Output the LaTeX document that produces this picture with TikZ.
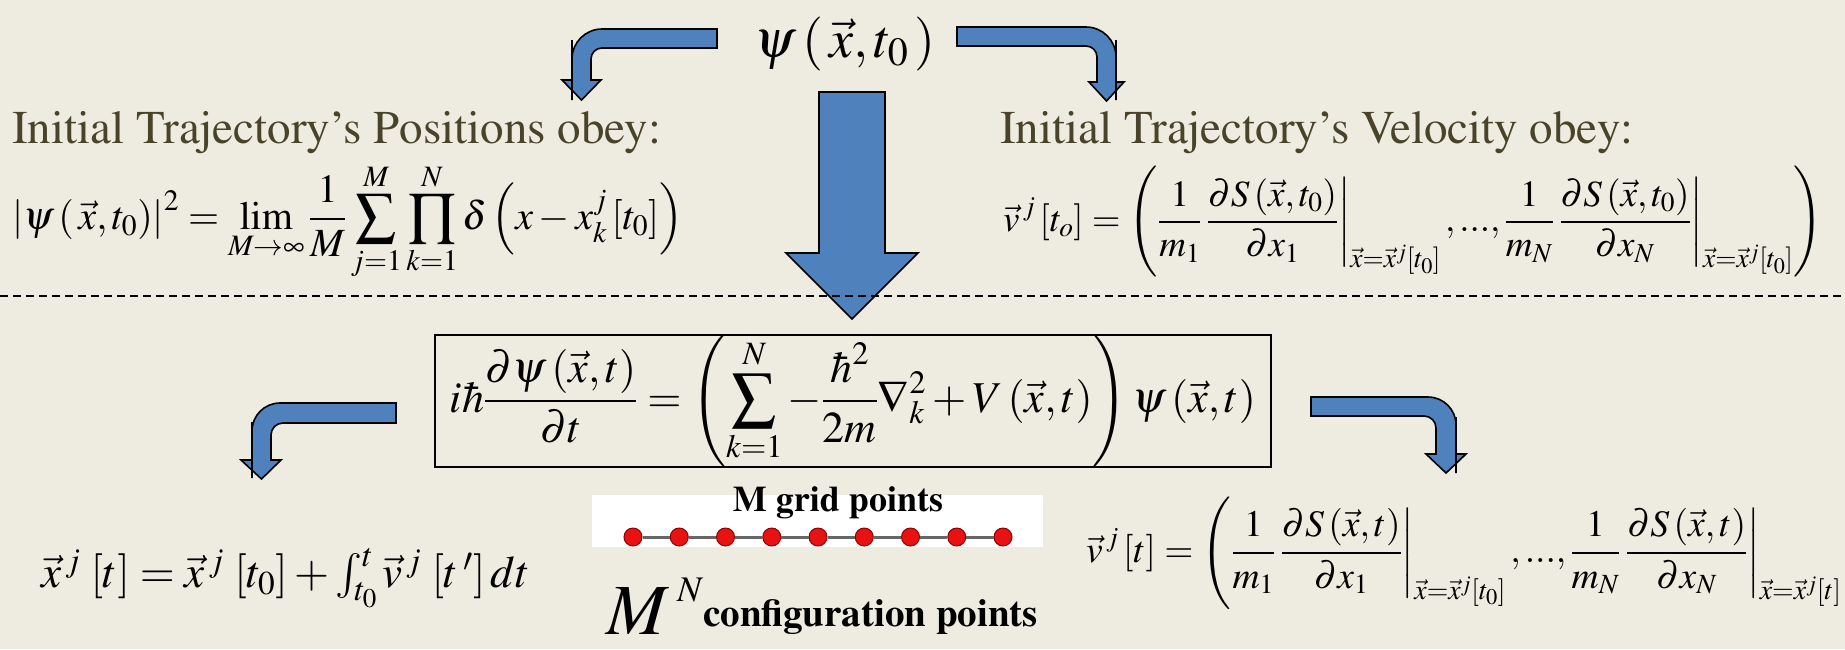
\documentclass[tikz,border=0pt]{standalone}
\usepackage[T1]{fontenc}
\usepackage{amsmath}
\usepackage{mathptmx}
\usetikzlibrary{positioning}
\definecolor{slidebg}{HTML}{EEECE1}
\definecolor{olivetxt}{HTML}{494429}
\definecolor{arrowblue}{HTML}{4F81BD}
\definecolor{dotred}{HTML}{E81212}
\begin{document}
\begin{tikzpicture}[x=1pt, y=-1pt,
  blk/.style={fill=arrowblue, draw=black, line width=1.6pt, line join=miter},
  ttl/.style={anchor=base west, inner sep=0pt, text=olivetxt, font=\fontsize{47}{56}\selectfont},
  eq/.style={inner sep=0pt, font=\fontsize{40}{48}\selectfont},
  gdot/.style={circle, fill=dotred, draw=red!55!black, line width=1pt, minimum size=18pt, inner sep=0pt},
  gline/.style={line width=3pt, black!60}]
\fill[slidebg] (0,0) rectangle (1845,649);
\useasboundingbox (0,0) rectangle (1845,649);
% initial wave function
\node[eq, font=\fontsize{54}{60}\selectfont] (psi) at (845,44) {$\psi\left(\,\vec{x},t_0\,\right)$};
\draw[blk] (717,29) [rounded corners=30pt] -- (572,29) -- (572,70) [sharp corners] -- (572,80) -- (562,80) -- (581.5,100)
  -- (601,80) -- (591,80) -- (591,70) [rounded corners=11pt] -- (591,48) -- (700,48) [sharp corners] -- (717,48) -- cycle;
\draw[blk] (957,27) [rounded corners=30pt] -- (1116,27) -- (1116,70) [sharp corners] -- (1116,82) -- (1124,82) -- (1106.5,101)
  -- (1089,82) -- (1097,82) -- (1097,70) [rounded corners=11pt] -- (1097,46) -- (975,46) [sharp corners] -- (957,46) -- cycle;
\draw[blk] (819,92) -- (885,92) -- (885,253) -- (918,253) -- (852,319) -- (786,253) -- (819,253) -- cycle;
% initial conditions
\node[ttl] (postitle) at (12,143) {Initial Trajectory's Positions obey:};
\node[ttl] (veltitle) at (1000,143) {Initial Trajectory's Velocity obey:};
\node[eq, anchor=west] (poseq) at (12,222) {$\displaystyle \left|\psi\left(\,\vec{x},t_0\right)\right|^2=\lim_{M\to\infty}\frac{1}{M}\sum_{j=1}^{M}\prod_{k=1}^{N}\delta\left(x-x_k^j\left[t_0\right]\right)$};
\node[eq, anchor=west, font=\fontsize{37}{44}\selectfont] (veleq) at (1003,222) {$\displaystyle \vec{v}^{\,j}\left[t_o\right]=\left(\frac{1}{m_1}\left.\frac{\partial S\left(\vec{x},t_0\right)}{\partial x_1}\right|_{\vec{x}=\vec{x}^j[t_0]},...,\frac{1}{m_N}\left.\frac{\partial S\left(\vec{x},t_0\right)}{\partial x_N}\right|_{\vec{x}=\vec{x}^j[t_0]}\right)$};
\draw[dashed, line width=2pt, dash pattern=on 8pt off 5pt] (0,296) -- (1845,296);
% time evolution
\node[eq, draw, line width=1.8pt, minimum width=836pt, minimum height=132pt, font=\fontsize{44}{50}\selectfont] (schr) at (853,401) {$\displaystyle i\hbar\frac{\partial\psi\left(\vec{x},t\right)}{\partial t}=\left(\sum_{k=1}^{N}-\frac{\hbar^2}{2m}\nabla_k^2+V\left(\vec{x},t\right)\right)\psi\left(\vec{x},t\right)$};
\draw[blk] (396,403) [rounded corners=28pt] -- (252,403) -- (252,450) [sharp corners] -- (252,460) -- (241,460) -- (261.5,479)
  -- (281,460) -- (271,460) -- (271,450) [rounded corners=12pt] -- (271,423) -- (380,423) [sharp corners] -- (396,423) -- cycle;
\draw[blk] (1311,397) [rounded corners=28pt] -- (1456,397) -- (1456,445) [sharp corners] -- (1456,454) -- (1466,454) -- (1446,473)
  -- (1426,454) -- (1436,454) -- (1436,445) [rounded corners=12pt] -- (1436,416) -- (1330,416) [sharp corners] -- (1311,416) -- cycle;
\node[eq, anchor=west, font=\fontsize{45}{50}\selectfont] (xeq) at (41,578) {$\vec{x}^{\,j}\,\left[t\right]=\vec{x}^{\,j}\,\left[t_0\right]+\int_{t_0}^{t}\vec{v}^{\,j}\,\left[t\,'\right]dt$};
\node[eq, anchor=west, font=\fontsize{37.5}{44}\selectfont] (vteq) at (1086,553) {$\displaystyle \vec{v}^{\,j}\left[t\right]=\left(\frac{1}{m_1}\left.\frac{\partial S\left(\vec{x},t\right)}{\partial x_1}\right|_{\vec{x}=\vec{x}^j[t_0]},...,\frac{1}{m_N}\left.\frac{\partial S\left(\vec{x},t\right)}{\partial x_N}\right|_{\vec{x}=\vec{x}^j[t]}\right.$};
% grid
\fill[white] (592,495) rectangle (1043,547);
\foreach \i in {0,...,8} \node[gdot] (g\i) at ({633+46.25*\i},537) {};
\foreach \i [count=\j] in {0,...,7} \draw[gline] (g\i) -- (g\j);
\node[anchor=base, inner sep=0pt, font=\bfseries\fontsize{36}{40}\selectfont] (gridlbl) at (838,511) {M grid points};
\node[anchor=base west, inner sep=0pt] (cfg) at (606,634) {{\fontsize{72}{72}\selectfont$M$}\hspace{8pt}\raisebox{33pt}{\fontsize{36}{36}\selectfont$N$}\raisebox{8pt}{\bfseries\fontsize{39}{40}\selectfont configuration points}};
\end{tikzpicture}
\end{document}
